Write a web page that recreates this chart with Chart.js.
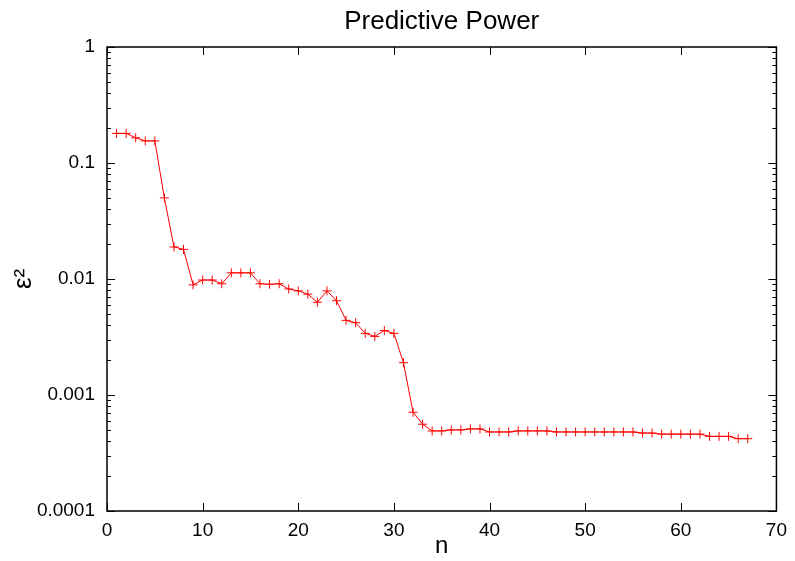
<!DOCTYPE html>
<html>
<head>
<meta charset="utf-8">
<script src="https://cdn.jsdelivr.net/npm/chart.js@4.4.0/dist/chart.umd.min.js"></script>
<style>
    html, body { margin: 0; padding: 0; background: #fff; }
    #wrap { width: 795px; height: 561px; }
</style>
</head>
<body>
<div id="wrap"><canvas id="powerChart"></canvas></div>
<script>
// Data
const nValues = [1, 2, 3, 4, 5, 6, 7, 8, 9, 10,
    11, 12, 13, 14, 15, 16, 17, 18, 19, 20,
    21, 22, 23, 24, 25, 26, 27, 28, 29, 30,
    31, 32, 33, 34, 35, 36, 37, 38, 39, 40,
    41, 42, 43, 44, 45, 46, 47, 48, 49, 50,
    51, 52, 53, 54, 55, 56, 57, 58, 59, 60,
    61, 62, 63, 64, 65, 66, 67];
const epsSq = [0.18, 0.18, 0.165, 0.155, 0.155, 0.050, 0.0189, 0.018, 0.0089, 0.0098,
    0.0098, 0.0091, 0.0113, 0.0113, 0.0113, 0.0091, 0.0090, 0.0091, 0.0082, 0.0079,
    0.0074, 0.0063, 0.0079, 0.0065, 0.0044, 0.0042, 0.0034, 0.0032, 0.0036, 0.0034,
    0.0019, 0.00071, 0.00056, 0.00049, 0.00049, 0.00050, 0.00050, 0.00051, 0.00051, 0.00048,
    0.00048, 0.00048, 0.00049, 0.00049, 0.00049, 0.00049, 0.00048, 0.00048, 0.00048, 0.00048,
    0.00048, 0.00048, 0.00048, 0.00048, 0.00048, 0.00047, 0.00047, 0.00046, 0.00046, 0.00046,
    0.00046, 0.00046, 0.00044, 0.00044, 0.00044, 0.00042, 0.00042];

const xTicks = [0, 10, 20, 30, 40, 50, 60, 70];
const yTicks = [0.0001, 0.001, 0.01, 0.1, 1];
const yTickLabels = ['0.0001', '0.001', '0.01', '0.1', '1'];

const FONT = 'Liberation Sans, Arial, Helvetica, sans-serif';

// gnuplot-style frame with inward ticks on all four sides
const frameTicks = {
    id: 'frameTicks',
    afterDraw(chart) {
        const ctx = chart.ctx;
        const area = chart.chartArea;
        const xs = chart.scales.x;
        const ys = chart.scales.y;
        const major = 8, minor = 4;
        ctx.save();
        ctx.strokeStyle = '#000';
        ctx.lineWidth = 1;
        ctx.beginPath();
        xTicks.forEach(v => {
            const px = Math.round(xs.getPixelForValue(v)) + 0.5;
            ctx.moveTo(px, area.bottom);
            ctx.lineTo(px, area.bottom - major);
            ctx.moveTo(px, area.top);
            ctx.lineTo(px, area.top + major);
        });
        yTicks.forEach((v, i) => {
            const py = Math.round(ys.getPixelForValue(v)) + 0.5;
            ctx.moveTo(area.left, py);
            ctx.lineTo(area.left + major, py);
            ctx.moveTo(area.right, py);
            ctx.lineTo(area.right - major, py);
            if (i < yTicks.length - 1) {
                for (let m = 2; m <= 9; m++) {
                    const pm = Math.round(ys.getPixelForValue(v * m)) + 0.5;
                    ctx.moveTo(area.left, pm);
                    ctx.lineTo(area.left + minor, pm);
                    ctx.moveTo(area.right, pm);
                    ctx.lineTo(area.right - minor, pm);
                }
            }
        });
        ctx.stroke();
        ctx.lineWidth = 1.5;
        ctx.strokeRect(area.left, area.top, area.right - area.left, area.bottom - area.top);
        ctx.restore();
    }
};

new Chart(document.getElementById('powerChart'), {
    type: 'line',
    data: {
        datasets: [{
            data: nValues.map((n, i) => ({ x: n, y: epsSq[i] })),
            borderColor: '#ff0000',
            backgroundColor: '#ff0000',
            borderWidth: 1,
            pointStyle: 'cross',
            pointRadius: 4.5,
            pointBorderWidth: 1,
            pointBorderColor: '#ff0000',
            tension: 0,
            fill: false
        }]
    },
    options: {
        responsive: true,
        maintainAspectRatio: false,
        animation: false,
        layout: { padding: { left: 0, right: 13, top: 0, bottom: 0 } },
        plugins: {
            legend: { display: false },
            tooltip: { enabled: false },
            title: {
                display: true,
                fullSize: false,
                text: 'Predictive Power',
                color: '#000',
                font: { family: FONT, size: 26, weight: 'normal' },
                padding: { top: 6, bottom: 9.8 }
            }
        },
        scales: {
            x: {
                type: 'linear',
                min: 0,
                max: 70,
                afterBuildTicks: scale => {
                    scale.ticks = xTicks.map(v => ({ value: v }));
                },
                afterFit: scale => { scale.height = 50; },
                grid: { display: false, drawTicks: false },
                border: { display: false },
                ticks: {
                    color: '#000',
                    padding: 8,
                    maxRotation: 0,
                    font: { family: FONT, size: 19 }
                },
                title: {
                    display: true,
                    text: 'n',
                    color: '#000',
                    font: { family: FONT, size: 24 },
                    padding: { top: 0, bottom: 0 }
                }
            },
            y: {
                type: 'logarithmic',
                min: 0.0001,
                max: 1,
                afterBuildTicks: scale => {
                    scale.ticks = yTicks.map(v => ({ value: v }));
                },
                afterFit: scale => { scale.width = 107; },
                grid: { display: false, drawTicks: false },
                border: { display: false },
                ticks: {
                    color: '#000',
                    padding: 12,
                    font: { family: FONT, size: 19 },
                    callback: value => yTickLabels[yTicks.indexOf(value)]
                },
                title: {
                    display: true,
                    text: 'ε²',
                    color: '#000',
                    font: { family: FONT, size: 26 },
                    padding: { top: 8, bottom: 0 }
                }
            }
        }
    },
    plugins: [frameTicks]
});
</script>
</body>
</html>
